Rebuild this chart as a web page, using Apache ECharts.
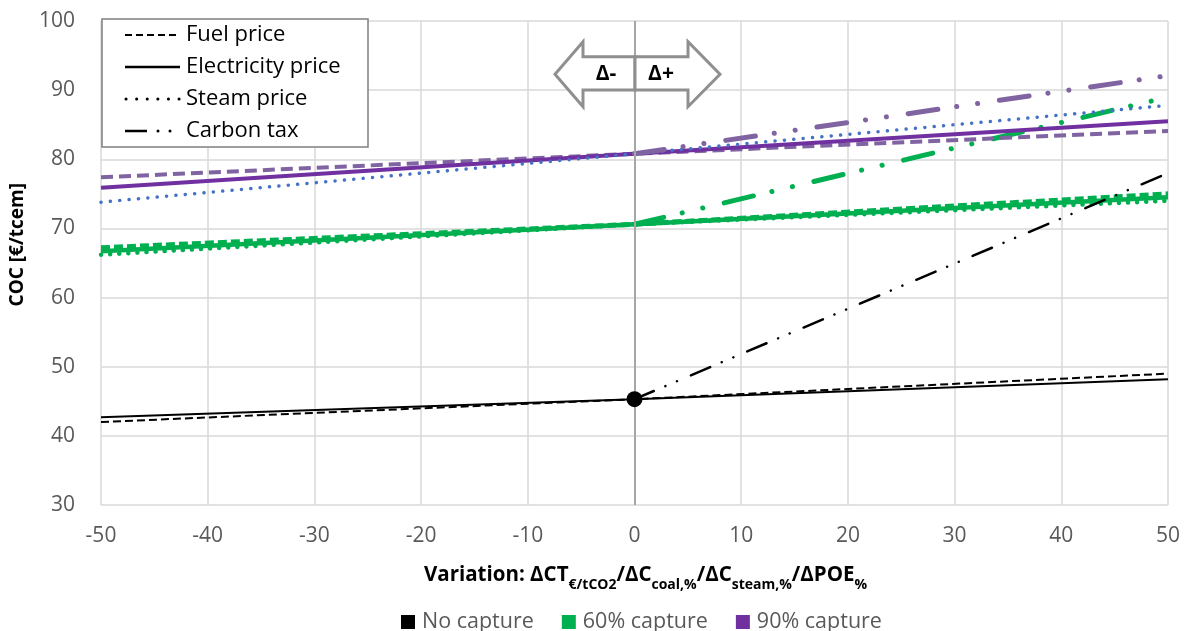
<!DOCTYPE html>
<html>
<head>
<meta charset="utf-8">
<script src="https://cdn.jsdelivr.net/npm/echarts@6/dist/echarts.min.js"></script>
<style>
html,body{margin:0;padding:0;background:#fff;}
#chart{width:1184px;height:631px;}
</style>
</head>
<body>
<div id="chart"></div>
<script>
// ---- data ----
const xFull = [-50, 0, 50];
const xPos = [0, 50];
const xTicks = [-50, -40, -30, -20, -10, 0, 10, 20, 30, 40, 50];
const yTicks = [30, 40, 50, 60, 70, 80, 90, 100];
const groups = ['No capture', '60% capture', '90% capture'];
const styleNames = ['Fuel price', 'Electricity price', 'Steam price', 'Carbon tax'];

const noCapFuel = [42.0, 45.3, 49.0];
const noCapElec = [42.7, 45.3, 48.2];
const noCapTax = [45.3, 78.0];
const cap60Fuel = [67.2, 70.6, 75.0];
const cap60Elec = [66.7, 70.6, 74.5];
const cap60Steam = [66.2, 70.6, 74.0];
const cap60Tax = [70.6, 89.0];
const cap90Fuel = [77.4, 80.8, 84.1];
const cap90Elec = [75.9, 80.8, 85.5];
const cap90Steam = [73.8, 80.8, 87.8];
const cap90Tax = [80.8, 92.1];
const basePoint = [0, 45.3];

const pair = (xs, ys) => xs.map((x, i) => [x, ys[i]]);

const BLACK = '#000000', GREEN = '#00B050', PURPLE = '#7030A0', LPURPLE = '#8064A2', BLUE = '#4472C4';

function line(name, xs, ys, color, width, type, z, cap) {
  return {
    name: name, type: 'line', data: pair(xs, ys), showSymbol: false, symbol: 'none',
    silent: true, z: z || 2,
    lineStyle: { color: color, width: width, type: type, cap: cap || 'butt' },
    itemStyle: { color: color }
  };
}

const series = [
  // vertical reference line at x = 0
  {
    name: groups[0], type: 'line', data: [], silent: true, z: 1,
    markLine: {
      silent: true, symbol: ['none', 'none'], label: { show: false },
      lineStyle: { color: '#a6a6a6', width: 2, type: 'solid' },
      data: [{ xAxis: 0 }]
    }
  },
  // 60% capture
  line(groups[1], xFull, cap60Steam, GREEN, 4.5, [0.1, 9], 3, 'round'),
  line(groups[1], xFull, cap60Elec, GREEN, 4.5, 'solid', 3),
  line(groups[1], xFull, cap60Fuel, GREEN, 5, [9, 4], 3),
  line(groups[1], xPos, cap60Tax, GREEN, 5, [30, 19, 0.1, 21, 0.1, 22], 3, 'round'),
  // 90% capture
  line(groups[2], xFull, cap90Fuel, LPURPLE, 4, [12, 6], 4),
  line(groups[2], xFull, cap90Elec, PURPLE, 4, 'solid', 4),
  line(groups[2], xFull, cap90Steam, BLUE, 3.5, [0.1, 9.3], 4, 'round'),
  line(groups[2], xPos, cap90Tax, LPURPLE, 5, [30, 19, 0.1, 21, 0.1, 22], 4, 'round'),
  // No capture
  line(groups[0], xFull, noCapFuel, BLACK, 2, [8, 4], 5),
  line(groups[0], xFull, noCapElec, BLACK, 2, 'solid', 5),
  line(groups[0], xPos, noCapTax, BLACK, 2.5, [21, 12.5, 0.1, 12.5, 0.1, 15], 5, 'round'),
  {
    name: groups[0], type: 'scatter', data: [basePoint], symbolSize: 16, silent: true, z: 10,
    itemStyle: { color: BLACK, opacity: 1 }
  }
];

const chart = echarts.init(document.getElementById('chart'), null, { renderer: 'canvas' });

const legendBox = { x: 102, y: 19, w: 266, h: 128 };
const rowsY = [35, 67, 99, 131];

const option = {
  animation: false,
  textStyle: { fontFamily: 'Open Sans' },
  grid: { left: 101, right: 16, top: 21, bottom: 126 },
  xAxis: {
    type: 'value', min: xTicks[0], max: xTicks[xTicks.length - 1], interval: 10,
    axisLine: { show: false }, axisTick: { show: false },
    splitLine: { show: true, lineStyle: { color: '#d9d9d9', width: 1.5 } },
    axisLabel: { color: '#595959', fontSize: 21, margin: 21, fontFamily: 'Open Sans' },
    name: '{b|Variation: ΔCT}{s|€/tCO2}{b|/ΔC}{s|coal,%}{b|/ΔC}{s|steam,%}{b|/ΔPOE}{s|%}',
    nameLocation: 'middle', nameGap: 56,
    nameTextStyle: {
      padding: [0, 0, 0, 22],
      rich: {
        b: { fontWeight: 'bold', fontSize: 20.5, color: '#000', fontFamily: 'Open Sans', verticalAlign: 'bottom', lineHeight: 25 },
        s: { fontWeight: 'bold', fontSize: 14, color: '#000', fontFamily: 'Open Sans', verticalAlign: 'bottom', lineHeight: 25, padding: [0, 0, -6, 0] }
      }
    }
  },
  yAxis: {
    type: 'value', min: yTicks[0], max: yTicks[yTicks.length - 1], interval: 10,
    axisLine: { show: false }, axisTick: { show: false },
    splitLine: { show: true, lineStyle: { color: '#d9d9d9', width: 1.5 } },
    axisLabel: { color: '#595959', fontSize: 21, margin: 26, fontFamily: 'Open Sans' }
  },
  legend: {
    data: [
      { name: groups[0], icon: 'rect', itemStyle: { color: BLACK } },
      { name: groups[1], icon: 'rect', itemStyle: { color: GREEN } },
      { name: groups[2], icon: 'rect', itemStyle: { color: PURPLE } }
    ],
    left: 396, top: 606, itemWidth: 14, itemHeight: 14, itemGap: 28,
    textStyle: { color: '#595959', fontSize: 21.5, fontFamily: 'Open Sans', padding: [0, 0, 0, 2] },
    selectedMode: false
  },
  graphic: [
    { type: 'text', left: 8, top: 183, rotation: Math.PI / 2,
      style: { text: 'COC [€/tcem]', font: 'bold 19px "Open Sans"', fill: '#000' } },
    // top-left style legend
    { type: 'rect', shape: { x: legendBox.x, y: legendBox.y, width: legendBox.w, height: legendBox.h },
      style: { fill: '#fff', stroke: '#7f7f7f', lineWidth: 1.5 }, z: 50 },
    { type: 'line', shape: { x1: 125, y1: rowsY[0], x2: 180, y2: rowsY[0] },
      style: { stroke: '#000', lineWidth: 2, lineDash: [7, 4] }, z: 51 },
    { type: 'line', shape: { x1: 125, y1: rowsY[1], x2: 180, y2: rowsY[1] },
      style: { stroke: '#000', lineWidth: 2.5 }, z: 51 },
    { type: 'line', shape: { x1: 126, y1: rowsY[2], x2: 180, y2: rowsY[2] },
      style: { stroke: '#000', lineWidth: 3, lineDash: [0.1, 10.5], lineCap: 'round' }, z: 51 },
    { type: 'line', shape: { x1: 125, y1: rowsY[3], x2: 147, y2: rowsY[3] },
      style: { stroke: '#000', lineWidth: 2.5 }, z: 51 },
    { type: 'circle', shape: { cx: 158, cy: rowsY[3], r: 1.5 }, style: { fill: '#000' }, z: 51 },
    { type: 'circle', shape: { cx: 170, cy: rowsY[3], r: 1.5 }, style: { fill: '#000' }, z: 51 }
  ].concat(styleNames.map((s, i) => ({
    type: 'text', x: 186, y: rowsY[i], z: 51,
    style: { text: s, font: '22px "Open Sans"', fill: '#000', verticalAlign: 'middle' }
  }))).concat([
    // double arrow
    { type: 'polygon', z: 60,
      shape: { points: [[635, 56.7], [583, 56.7], [583, 41.7], [555, 74.3], [583, 106.7], [583, 90], [635, 90]] },
      style: { fill: '#fff', stroke: '#8f8f8f', lineWidth: 3 } },
    { type: 'polygon', z: 60,
      shape: { points: [[635, 56.7], [688, 56.7], [688, 41.7], [720, 74.3], [688, 106.7], [688, 90], [635, 90]] },
      style: { fill: '#fff', stroke: '#8f8f8f', lineWidth: 3 } },
    { type: 'text', x: 606, y: 74, z: 61,
      style: { text: 'Δ-', font: 'bold 21px "Open Sans"', fill: '#000', align: 'center', verticalAlign: 'middle' } },
    { type: 'text', x: 661, y: 74, z: 61,
      style: { text: 'Δ+', font: 'bold 21px "Open Sans"', fill: '#000', align: 'center', verticalAlign: 'middle' } }
  ]),
  series: series
};

chart.setOption(option);
</script>
</body>
</html>
